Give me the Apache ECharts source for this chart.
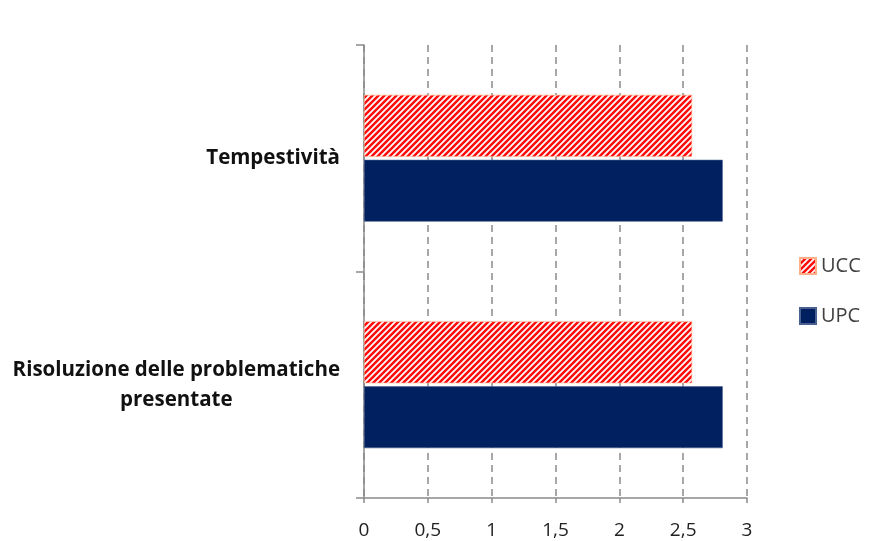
<!DOCTYPE html>
<html>
<head>
<meta charset="utf-8">
<script src="https://cdn.jsdelivr.net/npm/echarts@6/dist/echarts.min.js"></script>
<style>
  html, body { margin: 0; padding: 0; background: #fff; }
  #chart { width: 874px; height: 541px; }
</style>
</head>
<body>
<div id="chart"></div>
<script>
// Categories listed bottom-to-top (ECharts category y axis starts at the bottom)
const categories = ['Risoluzione delle problematiche\npresentate', 'Tempestività'];
const seriesNames = ['UCC', 'UPC'];
const ucc = [2.57, 2.57];
const upc = [2.81, 2.81];
const valueTicks = { min: 0, max: 3, interval: 0.5 };

// Red diagonal hatch used for the UCC bars
function hatchPattern() {
  const c = document.createElement('canvas');
  const s = 6;
  c.width = s; c.height = s;
  const ctx = c.getContext('2d');
  ctx.fillStyle = '#ffffff';
  ctx.fillRect(0, 0, s, s);
  ctx.strokeStyle = '#ff0d0d';
  ctx.lineWidth = 2.5;
  ctx.beginPath();
  ctx.moveTo(0, s); ctx.lineTo(s, 0);
  ctx.moveTo(-1, 1); ctx.lineTo(1, -1);
  ctx.moveTo(s - 1, s + 1); ctx.lineTo(s + 1, s - 1);
  ctx.stroke();
  return { image: c, repeat: 'repeat' };
}

const axisGray = '#8a8a8a';
const chart = echarts.init(document.getElementById('chart'), null, { renderer: 'canvas' });

chart.setOption({
  animation: false,
  backgroundColor: '#ffffff',
  textStyle: { fontFamily: 'Open Sans, Noto Sans, sans-serif' },
  grid: { left: 364, right: 127, top: 45, bottom: 43, containLabel: false },
  legend: {
    data: seriesNames,
    orient: 'vertical',
    left: 794,
    top: 251,
    itemWidth: 16,
    itemHeight: 16,
    itemGap: 30,
    icon: 'rect',
    textStyle: { fontSize: 20, color: '#404040', fontFamily: 'Open Sans, sans-serif' }
  },
  xAxis: {
    type: 'value',
    min: valueTicks.min,
    max: valueTicks.max,
    interval: valueTicks.interval,
    axisLine: { show: true, lineStyle: { color: axisGray, width: 1.5 } },
    axisTick: { show: true, inside: false, length: 5, lineStyle: { color: axisGray, width: 1.5 } },
    axisLabel: {
      margin: 23,
      fontSize: 19,
      color: '#222',
      formatter: v => String(v).replace('.', ',')
    },
    splitLine: { show: true, lineStyle: { color: '#8c8c8c', width: 1.5, type: [7, 5] } }
  },
  yAxis: {
    type: 'category',
    data: categories,
    axisLine: { show: true, lineStyle: { color: axisGray, width: 1.5 } },
    axisTick: { show: true, inside: false, length: 8, lineStyle: { color: axisGray, width: 1.5 } },
    axisLabel: {
      margin: 24,
      color: '#111',
      align: 'right',
      formatter: v => v.split('\n').map(l => '{c|' + l + '}').join('\n'),
      rich: {
        c: { fontSize: 20.5, fontWeight: 'bold', color: '#111', align: 'center', lineHeight: 30 }
      }
    },
    splitLine: { show: false }
  },
  series: [
    {
      name: 'UCC',
      type: 'bar',
      data: ucc,
      barCategoryGap: '44%',
      barGap: '5%',
      itemStyle: { color: hatchPattern(), borderColor: '#ffb08a', borderWidth: 0.6 }
    },
    {
      name: 'UPC',
      type: 'bar',
      data: upc,
      barCategoryGap: '44%',
      barGap: '5%',
      itemStyle: { color: '#00205f', borderColor: '#4a6090', borderWidth: 0.6 }
    }
  ]
});
</script>
</body>
</html>
